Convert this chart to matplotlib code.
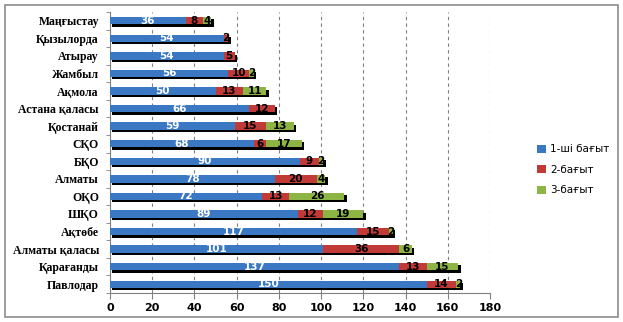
import numpy as np
import matplotlib.pyplot as plt
from matplotlib.patches import Rectangle

regions = ["Маңғыстау", "Қызылорда", "Атырау", "Жамбыл", "Ақмола",
           "Астана қаласы", "Қостанай", "СҚО", "БҚО", "Алматы", "ОҚО",
           "ШҚО", "Ақтөбе", "Алматы қаласы", "Қарағанды", "Павлодар"]
dir1 = [36, 54, 54, 56, 50, 66, 59, 68, 90, 78, 72, 89, 117, 101, 137, 150]
dir2 = [8, 2, 5, 10, 13, 12, 15, 6, 9, 20, 13, 12, 15, 36, 13, 14]
dir3 = [4, 0, 0, 2, 11, 0, 13, 17, 2, 4, 26, 19, 2, 6, 15, 2]
series_names = ["1-ші бағыт", "2-бағыт", "3-бағыт"]
colors = ["#3b78c3", "#c23a37", "#8db544"]

fig = plt.figure(figsize=(6.23, 3.22), dpi=100)
ax = fig.add_axes([110 / 623, 1 - 293 / 322, 380 / 623, 281 / 322])

y = np.arange(len(regions))
h = 0.42
d1, d2, d3 = np.array(dir1), np.array(dir2), np.array(dir3)
total = d1 + d2 + d3

# shadow under each stack
ax.barh(y + 0.13, total + 0.2, left=0.9, height=h, color="black", zorder=2)

lefts = [np.zeros(len(y)), d1, d1 + d2]
handles = []
for vals, left, col, name, tcol in zip([d1, d2, d3], lefts, colors,
                                       series_names, ["white", "black", "black"]):
    b = ax.barh(y, vals, left=left, height=h, color=col, zorder=3, label=name)
    handles.append(b)
    for yi, v, l in zip(y, vals, left):
        if v > 0:
            ax.text(l + v / 2, yi, str(v), ha="center", va="center",
                    fontsize=7.5, fontweight="bold", color=tcol, zorder=4)

ax.set_xlim(0, 180)
ax.set_ylim(len(regions) - 0.5, -0.5)
ax.set_xticks(range(0, 181, 20))
ax.set_yticks(y)
ax.set_yticklabels(regions, fontsize=8.5, fontweight="bold",
                   family="Liberation Serif")
ax.set_yticks(np.arange(-0.5, len(regions)), minor=True)
ax.tick_params(axis="y", which="major", length=0, pad=8)
ax.tick_params(axis="y", which="minor", length=3, color="#808080")
ax.tick_params(axis="x", length=4, color="#808080", labelsize=8)
for t in ax.get_xticklabels():
    t.set_fontweight("bold")
ax.grid(axis="x", linestyle=(0, (3, 3)), color="#808080", linewidth=0.8, zorder=0)
for s in ["top", "right"]:
    ax.spines[s].set_visible(False)
ax.spines["left"].set_color("#808080")
ax.spines["bottom"].set_color("#808080")

fig.legend(handles=handles, loc="upper left", bbox_to_anchor=(528 / 623, 1 - 135 / 322),
           frameon=False, fontsize=7.5, handlelength=0.8, handleheight=0.8,
           labelspacing=1.0, handletextpad=0.4)

fig.patches.append(Rectangle((5 / 623, 5 / 322), 613 / 623, 312 / 322,
                             transform=fig.transFigure, fill=False,
                             edgecolor="#8c8c8c", linewidth=1.2))

fig.savefig("out.png", dpi=100)
